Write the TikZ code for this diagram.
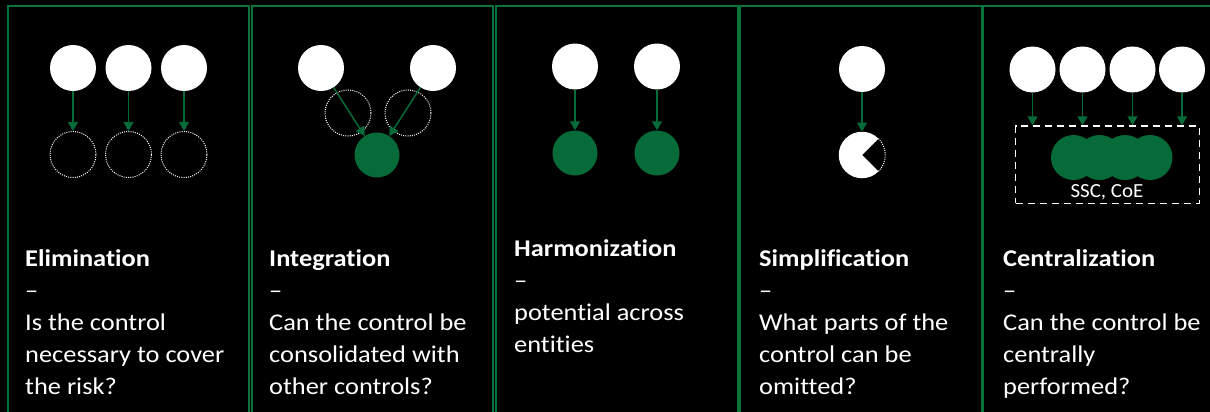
\documentclass[tikz,border=0pt]{standalone}
\usepackage{fontspec}
\setmainfont{Carlito}[Ligatures=NoCommon,FakeStretch=1.1]
\newfontfamily\sscfont{Carlito}[Ligatures=NoCommon,FakeStretch=1.05]
\usetikzlibrary{arrows.meta}
\definecolor{dgreen}{RGB}{6,107,56}
\definecolor{bgreen}{RGB}{10,115,58}
\begin{document}
\begin{tikzpicture}[x=1pt,y=-1pt,
  wc/.style={circle,fill=white,minimum size=46pt,inner sep=0},
  gc/.style={circle,fill=dgreen,minimum size=45pt,inner sep=0},
  dc/.style={circle,draw=white,line width=1pt,dash pattern=on 1pt off 1.2pt,minimum size=46pt,inner sep=0},
  arr/.style={draw=dgreen,line width=1.5pt,-{Triangle[width=10pt,length=9pt,fill=dgreen]}},
  panel/.style={draw=bgreen,line width=1.6pt},
  txt/.style={anchor=base west,align=left,inner sep=0,text=white,font=\fontsize{24}{32}\selectfont}]
\useasboundingbox (0,0) rectangle (1210,412);
\clip (0,0) rectangle (1210,412);
\fill[black] (0,0) rectangle (1210,412);
% panels
\draw[panel] (8,6) rectangle (249,440);
\draw[panel] (252,6) rectangle (493,440);
\draw[panel] (496,6) rectangle (738,440);
\draw[panel] (740,6) rectangle (982,440);
\draw[panel] (983.5,6) rectangle (1240,440);
% panel 1: elimination
\node[wc] (e1) at (73,68) {};
\node[wc] (e2) at (128.5,68) {};
\node[wc] (e3) at (184,68) {};
\node[dc] (ed1) at (73,154.5) {};
\node[dc] (ed2) at (128.5,154.5) {};
\node[dc] (ed3) at (184,154.5) {};
\draw[arr] (e1) -- (ed1);
\draw[arr] (e2) -- (ed2);
\draw[arr] (e3) -- (ed3);
% panel 2: integration
\node[dc] (id1) at (348,113) {};
\node[dc] (id2) at (408,113) {};
\node[wc] (i1) at (321,68) {};
\node[wc] (i2) at (433,68) {};
\node[gc] (ig) at (377,155) {};
\draw[arr] (i1) -- (ig);
\draw[arr] (i2) -- (ig);
% panel 3: harmonization
\node[wc] (h1) at (575,66.5) {};
\node[wc] (h2) at (657,66.5) {};
\node[gc] (hg1) at (575,153) {};
\node[gc] (hg2) at (657,153) {};
\draw[arr] (h1) -- (hg1);
\draw[arr] (h2) -- (hg2);
% panel 4: simplification
\node[wc] (s1) at (862,69) {};
\node[circle,minimum size=46.5pt,inner sep=0] (pac) at (862,155) {};
\fill[white] (pac.center) -- ++(45:23.25) arc[start angle=45,end angle=315,radius=23.25] -- cycle;
\draw[white,line width=1pt,dash pattern=on 1pt off 1.2pt] (pac.center) ++(-45:23.25) arc[start angle=-45,end angle=45,radius=23.25];
\draw[arr] (s1) -- (pac);
% panel 5: centralization
\node[wc] (c1) at (1032.5,69.5) {};
\node[wc] (c2) at (1082.5,69.5) {};
\node[wc] (c3) at (1132.5,69.5) {};
\node[wc] (c4) at (1182,69.5) {};
\node[draw=white,line width=1.5pt,dash pattern=on 7pt off 5pt,minimum width=183.6pt,minimum height=77.3pt,inner sep=0] (box) at (1107.5,164.7) {};
\node[gc] (cg1) at (1073.5,157.5) {};
\node[gc] (cg2) at (1099.5,157.5) {};
\node[gc] (cg3) at (1125,157.5) {};
\node[gc] (cg4) at (1150,157.5) {};
\node[anchor=base,inner sep=0,text=white,font=\sscfont\fontsize{20}{22}\selectfont] (ssc) at (1107,197.5) {SSC, CoE};
\draw[arr] (c1) -- (c1 |- box.north);
\draw[arr] (c2) -- (c2 |- box.north);
\draw[arr] (c3) -- (c3 |- box.north);
\draw[arr] (c4) -- (c4 |- box.north);
% texts (anchored at the baseline of the last line)
\node[txt] (t1) at (25,394) {\textbf{Elimination}\\–\\Is the control\\necessary to cover\\the risk?};
\node[txt] (t2) at (269,394) {\textbf{Integration}\\–\\Can the control be\\consolidated with\\other controls?};
\node[txt] (t3) at (514,352) {\textbf{Harmonization}\\–\\potential across\\entities};
\node[txt] (t4) at (759,394) {\textbf{Simplification}\\–\\What parts of the\\control can be\\omitted?};
\node[txt] (t5) at (1003,394) {\textbf{Centralization}\\–\\Can the control be\\centrally\\performed?};
\end{tikzpicture}
\end{document}
